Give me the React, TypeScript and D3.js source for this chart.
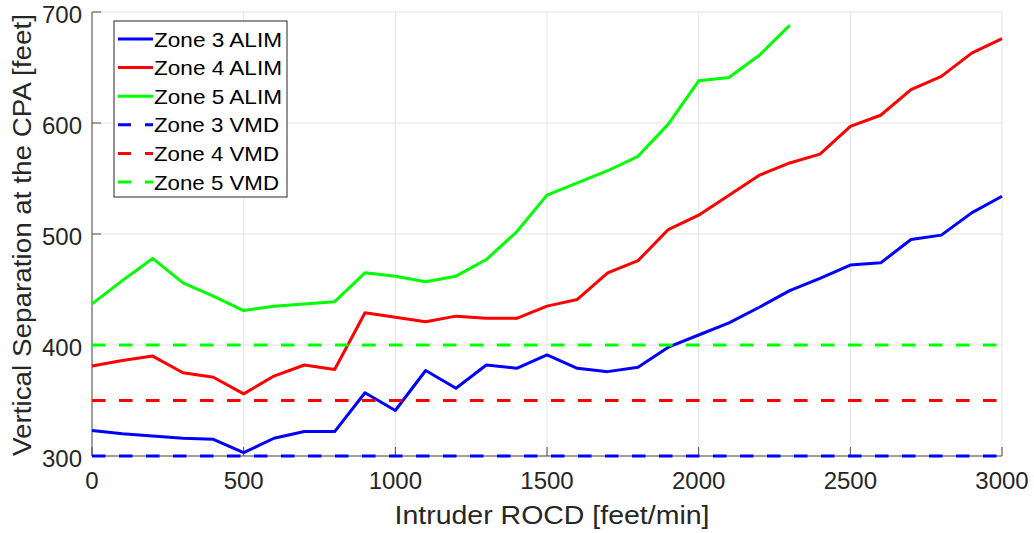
import React from "react";
import * as d3 from "d3";

const rocd = [0, 100, 200, 300, 400, 500, 600, 700, 800, 900, 1000, 1100, 1200, 1300, 1400, 1500, 1600, 1700, 1800, 1900, 2000, 2100, 2200, 2300, 2400, 2500, 2600, 2700, 2800, 2900, 3000];
const zone3Alim = [323, 320, 318, 316, 315, 303, 316, 322, 322, 357, 341, 377, 361, 382, 379, 391, 379, 376, 380, 398, 409, 420, 434, 449, 460, 472, 474, 495, 499, 519, 534];
const zone4Alim = [381, 386, 390, 375, 371, 356, 372, 382, 378, 429, 425, 421, 426, 424, 424, 435, 441, 465, 476, 504, 517, 535, 553, 564, 572, 597, 607, 630, 642, 663, 676];
const zone5Alim = [437, 458, 478, 456, 444, 431, 435, 437, 439, 465, 462, 457, 462, 477, 502, 535, 546, 557, 570, 599, 638, 641, 661, 688];
const vmdValues = [300, 350, 400];
const vmdRange = [0, 3000];
const xTicks = [0, 500, 1000, 1500, 2000, 2500, 3000];
const yTicks = [300, 400, 500, 600, 700];
const seriesNames = ["Zone 3 ALIM", "Zone 4 ALIM", "Zone 5 ALIM", "Zone 3 VMD", "Zone 4 VMD", "Zone 5 VMD"];
const colors = ["#0000ff", "#ff0000", "#00ff00"];

const W = 1034;
const H = 533;
const L = 92, R = 1002, T = 12, B = 456;
const FONT = "'Liberation Sans', Arial, Helvetica, sans-serif";
const DASH = "13.5 13.5";

export default function App() {
  const x = d3.scaleLinear().domain([0, 3000]).range([L, R]);
  const y = d3.scaleLinear().domain([300, 700]).range([B, T]);
  const line = d3
    .line<[number, number]>()
    .x((d) => x(d[0]))
    .y((d) => y(d[1]));

  const alims = [zone3Alim, zone4Alim, zone5Alim].map((vals) =>
    vals.map((v, i) => [rocd[i], v] as [number, number])
  );
  const vmds = vmdValues.map((v) => vmdRange.map((r) => [r, v] as [number, number]));

  const legendX = 114, legendY = 21, legendW = 173, legendH = 176;
  const rowY = (i: number) => 39 + i * 28.6;

  return (
    <div style={{ position: "fixed", left: 0, top: 0, width: W, height: H, background: "#fff" }}>
      <svg width={W} height={H} style={{ display: "block", fontFamily: FONT }}>
        <rect x={0} y={0} width={W} height={H} fill="#fff" />
        {/* grid */}
        {xTicks.map((t) => (
          <line key={"gx" + t} x1={x(t)} x2={x(t)} y1={T} y2={B} stroke="#e3e3e3" strokeWidth={1} />
        ))}
        {yTicks.map((t) => (
          <line key={"gy" + t} x1={L} x2={R} y1={y(t)} y2={y(t)} stroke="#e3e3e3" strokeWidth={1} />
        ))}
        {/* axes */}
        <line x1={L} x2={R} y1={B} y2={B} stroke="#4d4d4d" strokeWidth={1} />
        <line x1={L} x2={L} y1={T} y2={B} stroke="#4d4d4d" strokeWidth={1} />
        {xTicks.map((t) => (
          <line key={"tx" + t} x1={x(t)} x2={x(t)} y1={B} y2={B - 9} stroke="#4d4d4d" strokeWidth={1} />
        ))}
        {yTicks.map((t) => (
          <line key={"ty" + t} x1={L} x2={L + 9} y1={y(t)} y2={y(t)} stroke="#4d4d4d" strokeWidth={1} />
        ))}
        {/* tick labels */}
        {xTicks.map((t) => (
          <text key={"lx" + t} x={x(t)} y={489} textAnchor="middle" fontSize={24} fill="#262626">
            {t}
          </text>
        ))}
        {yTicks.map((t) => (
          <text key={"ly" + t} x={82} y={y(t) + 11} textAnchor="end" fontSize={24} fill="#262626">
            {t}
          </text>
        ))}
        {/* axis labels */}
        <text
          x={(L + R) / 2 + 5}
          y={524}
          textAnchor="middle"
          fontSize={25}
          fill="#262626"
          textLength={315}
          lengthAdjust="spacingAndGlyphs"
        >
          Intruder ROCD [feet/min]
        </text>
        <text
          transform={`translate(31, ${(T + B) / 2 + 1}) rotate(-90)`}
          textAnchor="middle"
          fontSize={25}
          fill="#262626"
          textLength={442}
          lengthAdjust="spacingAndGlyphs"
        >
          Vertical Separation at the CPA [feet]
        </text>
        {/* data */}
        {alims.map((d, i) => (
          <path key={"a" + i} d={line(d) || ""} fill="none" stroke={colors[i]} strokeWidth={3} strokeLinejoin="round" />
        ))}
        {vmds.map((d, i) => (
          <path key={"v" + i} d={line(d) || ""} fill="none" stroke={colors[i]} strokeWidth={3} strokeDasharray={DASH} />
        ))}
        {/* legend */}
        <rect x={legendX} y={legendY} width={legendW} height={legendH} fill="#fff" stroke="#262626" strokeWidth={1} />
        {seriesNames.map((name, i) => (
          <g key={"lg" + i}>
            <line
              x1={118}
              x2={153}
              y1={rowY(i)}
              y2={rowY(i)}
              stroke={colors[i % 3]}
              strokeWidth={3}
              strokeDasharray={i >= 3 ? "13 14" : undefined}
            />
            <text
              x={154}
              y={rowY(i) + 7.5}
              fontSize={21}
              fill="#000"
              textLength={i >= 3 ? 125 : 128}
              lengthAdjust="spacingAndGlyphs"
            >
              {name}
            </text>
          </g>
        ))}
      </svg>
    </div>
  );
}
